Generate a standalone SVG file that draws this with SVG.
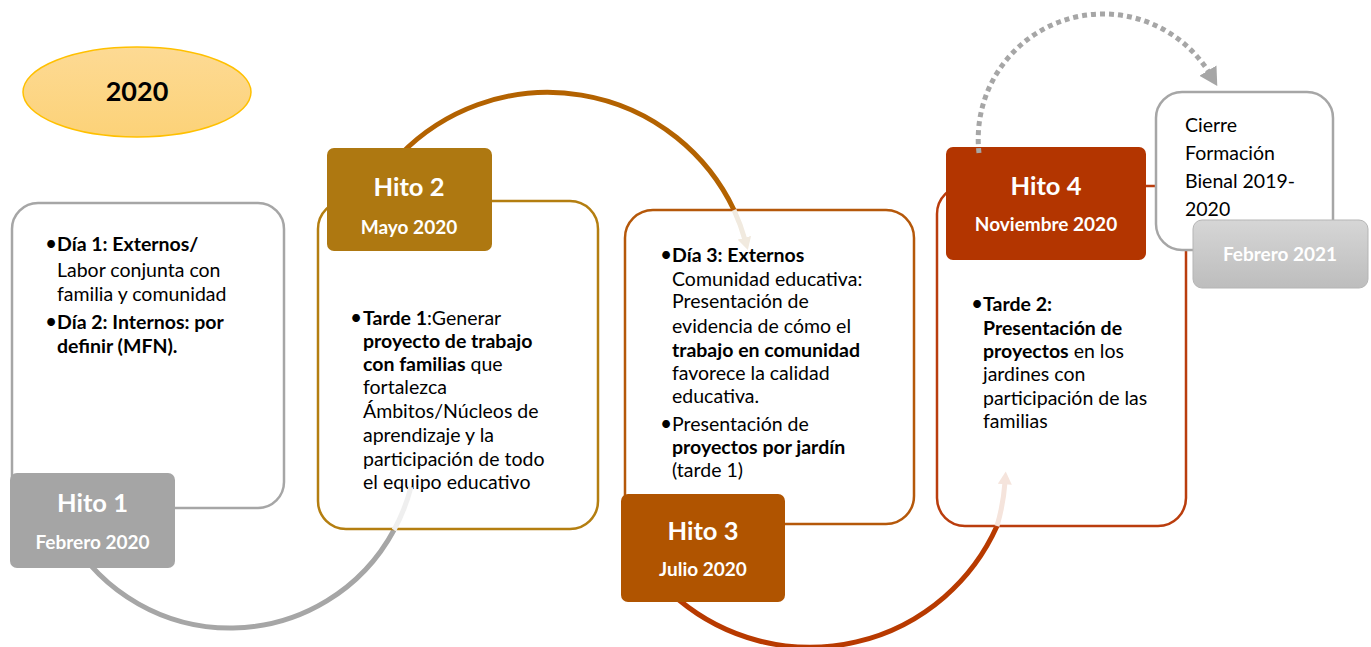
<svg xmlns="http://www.w3.org/2000/svg" width="1371" height="647" viewBox="0 0 1371 647">
<style>
text{font-family:Lato,"Open Sans","Liberation Sans",sans-serif;}
.body{font-size:19.5px;fill:#000;}
.bul{font-size:21px;fill:#000;}
.b{font-weight:bold;}
.lbl{font-weight:bold;fill:#fff;text-anchor:middle;}
.t1{font-size:25.5px;}
.t2{font-size:19px;}
.box{fill:#fff;stroke-width:2.5;}
.arc{fill:none;stroke-width:5;}
</style>
<defs>
<linearGradient id="gy" x1="0" y1="0" x2="0" y2="1">
<stop offset="0" stop-color="#FDDA94"/><stop offset="1" stop-color="#FCD278"/>
</linearGradient>
<linearGradient id="gg" x1="0" y1="0" x2="0" y2="1">
<stop offset="0" stop-color="#D6D6D6"/><stop offset="1" stop-color="#BDBDBD"/>
</linearGradient>
<marker id="mDot" markerUnits="userSpaceOnUse" markerWidth="24" markerHeight="24" refX="4" refY="10" orient="auto" viewBox="0 0 24 20">
<path d="M0,0 L18,10 L0,20 Z" fill="#A6A6A6"/>
</marker>
<marker id="mF2" markerUnits="userSpaceOnUse" markerWidth="14" markerHeight="14" refX="2" refY="6" orient="auto" viewBox="0 0 12 12">
<path d="M0,0 L11,6 L0,12 Z" fill="#F1EADF"/>
</marker>
<marker id="mF3" markerUnits="userSpaceOnUse" markerWidth="14" markerHeight="14" refX="2" refY="6" orient="auto" viewBox="0 0 12 12">
<path d="M0,0 L11,6 L0,12 Z" fill="#F5E4DC"/>
</marker>
</defs>

<g id="year">
<ellipse cx="137" cy="92" rx="114" ry="45" fill="url(#gy)" stroke="#FFC000" stroke-width="1.5"/>
<text x="137" y="101" text-anchor="middle" font-weight="bold" font-size="27" fill="#000">2020</text>
</g>

<g id="connectors-back">
<path class="arc" stroke="#A6A6A6" d="M69,535 A186,186 0 0 0 394,530"/>
<path class="arc" stroke="#B36200" d="M400,155 A206,206 0 0 1 734,210"/>
<path class="arc" stroke="#B83A00" d="M679,600 A205,205 0 0 0 997,526"/>
</g>

<g id="box1">
<rect class="box" x="12" y="203" width="272" height="305" rx="26" stroke="#A6A6A6"/>
<text class="bul" x="45" y="251">•</text>
<text class="body b" x="57" y="251">Día 1: Externos/</text>
<text class="body" x="57" y="277">Labor conjunta con</text>
<text class="body" x="57" y="301">familia  y comunidad</text>
<text class="bul" x="45" y="329">•</text>
<text class="body b" x="57" y="329">Día 2: Internos: por</text>
<text class="body b" x="57" y="353">definir (MFN).</text>
</g>

<g id="box2">
<rect class="box" x="318" y="201" width="280" height="328" rx="28" stroke="#B47E10"/>
<text class="bul" x="350" y="325">•</text>
<text class="body" x="363" y="325"><tspan class="b">Tarde 1</tspan>:Generar</text>
<text class="body b" x="363" y="348">proyecto de trabajo</text>
<text class="body" x="363" y="371"><tspan class="b">con familias</tspan> que</text>
<text class="body" x="363" y="394">fortalezca</text>
<text class="body" x="363" y="418">Ámbitos/Núcleos de</text>
<text class="body" x="363" y="442">aprendizaje y la</text>
<text class="body" x="363" y="466">participación de todo</text>
<text class="body" x="363" y="489">el equipo educativo</text>
</g>

<g id="box3">
<rect class="box" x="625" y="210" width="289" height="314" rx="28" stroke="#B5580A"/>
<text class="bul" x="660" y="262">•</text>
<text class="body b" x="672" y="262">Día 3: Externos</text>
<text class="body" x="672" y="286">Comunidad educativa:</text>
<text class="body" x="672" y="308">Presentación de</text>
<text class="body" x="672" y="333">evidencia de cómo el</text>
<text class="body b" x="672" y="357">trabajo en comunidad</text>
<text class="body" x="672" y="380">favorece la calidad</text>
<text class="body" x="672" y="403">educativa.</text>
<text class="bul" x="660" y="431">•</text>
<text class="body" x="672" y="431">Presentación de</text>
<text class="body b" x="672" y="454">proyectos por jardín</text>
<text class="body" x="672" y="477">(tarde 1)</text>
</g>

<g id="box4">
<rect class="box" x="937" y="186" width="249" height="340" rx="28" stroke="#BA3D0D"/>
<text class="bul" x="971" y="311">•</text>
<text class="body b" x="983" y="311">Tarde 2:</text>
<text class="body b" x="983" y="335">Presentación de</text>
<text class="body" x="983" y="358"><tspan class="b">proyectos</tspan> en los</text>
<text class="body" x="983" y="381">jardines con</text>
<text class="body" x="983" y="405">participación de las</text>
<text class="body" x="983" y="428">familias</text>
</g>

<g id="connectors-faint">
<path class="arc" stroke="#EFEFEF" d="M394,530 A186,186 0 0 0 411,487"/>
<path class="arc" stroke="#F1EADF" d="M734,210 A206,206 0 0 1 745,240" marker-end="url(#mF2)"/>
<path class="arc" stroke="#F5E4DC" d="M997,526 A205,205 0 0 0 1005,482" marker-end="url(#mF3)"/>
</g>

<g id="cierre">
<rect class="box" x="1156" y="92" width="177" height="158" rx="26" stroke="#A6A6A6"/>
<text class="body" x="1185" y="132">Cierre</text>
<text class="body" x="1185" y="160">Formación</text>
<text class="body" x="1185" y="188">Bienal 2019-</text>
<text class="body" x="1185" y="216">2020</text>
</g>

<g id="feb2021">
<rect x="1193" y="220" width="175" height="68" rx="9" fill="url(#gg)" stroke="#B5B5B5" stroke-width="1"/>
<text class="lbl t2" x="1280" y="261" fill="#F2F2F2">Febrero 2021</text>
</g>

<g id="hito1">
<rect x="10" y="473" width="165" height="95" rx="7" fill="#A5A5A5"/>
<text class="lbl t1" x="92.5" y="512">Hito 1</text>
<text class="lbl t2" x="92.5" y="549">Febrero 2020</text>
</g>

<g id="hito2">
<rect x="327" y="148" width="165" height="103" rx="7" fill="#AE7811"/>
<text class="lbl t1" x="409" y="196">Hito 2</text>
<text class="lbl t2" x="409" y="234">Mayo 2020</text>
</g>

<g id="hito3">
<rect x="621" y="494" width="164" height="108" rx="7" fill="#B05400"/>
<text class="lbl t1" x="703" y="540">Hito 3</text>
<text class="lbl t2" x="703" y="576">Julio 2020</text>
</g>

<g id="hito4">
<rect x="946" y="147" width="200" height="113" rx="7" fill="#B33500"/>
<text class="lbl t1" x="1046" y="195">Hito 4</text>
<text class="lbl t2" x="1046" y="231">Noviembre 2020</text>
</g>

<g id="connectors-dotted">
<path class="arc" stroke="#A6A6A6" stroke-width="5.5" stroke-dasharray="5 4" d="M979,153 A125,125 0 0 1 1210,74" marker-end="url(#mDot)"/>
</g>
</svg>
